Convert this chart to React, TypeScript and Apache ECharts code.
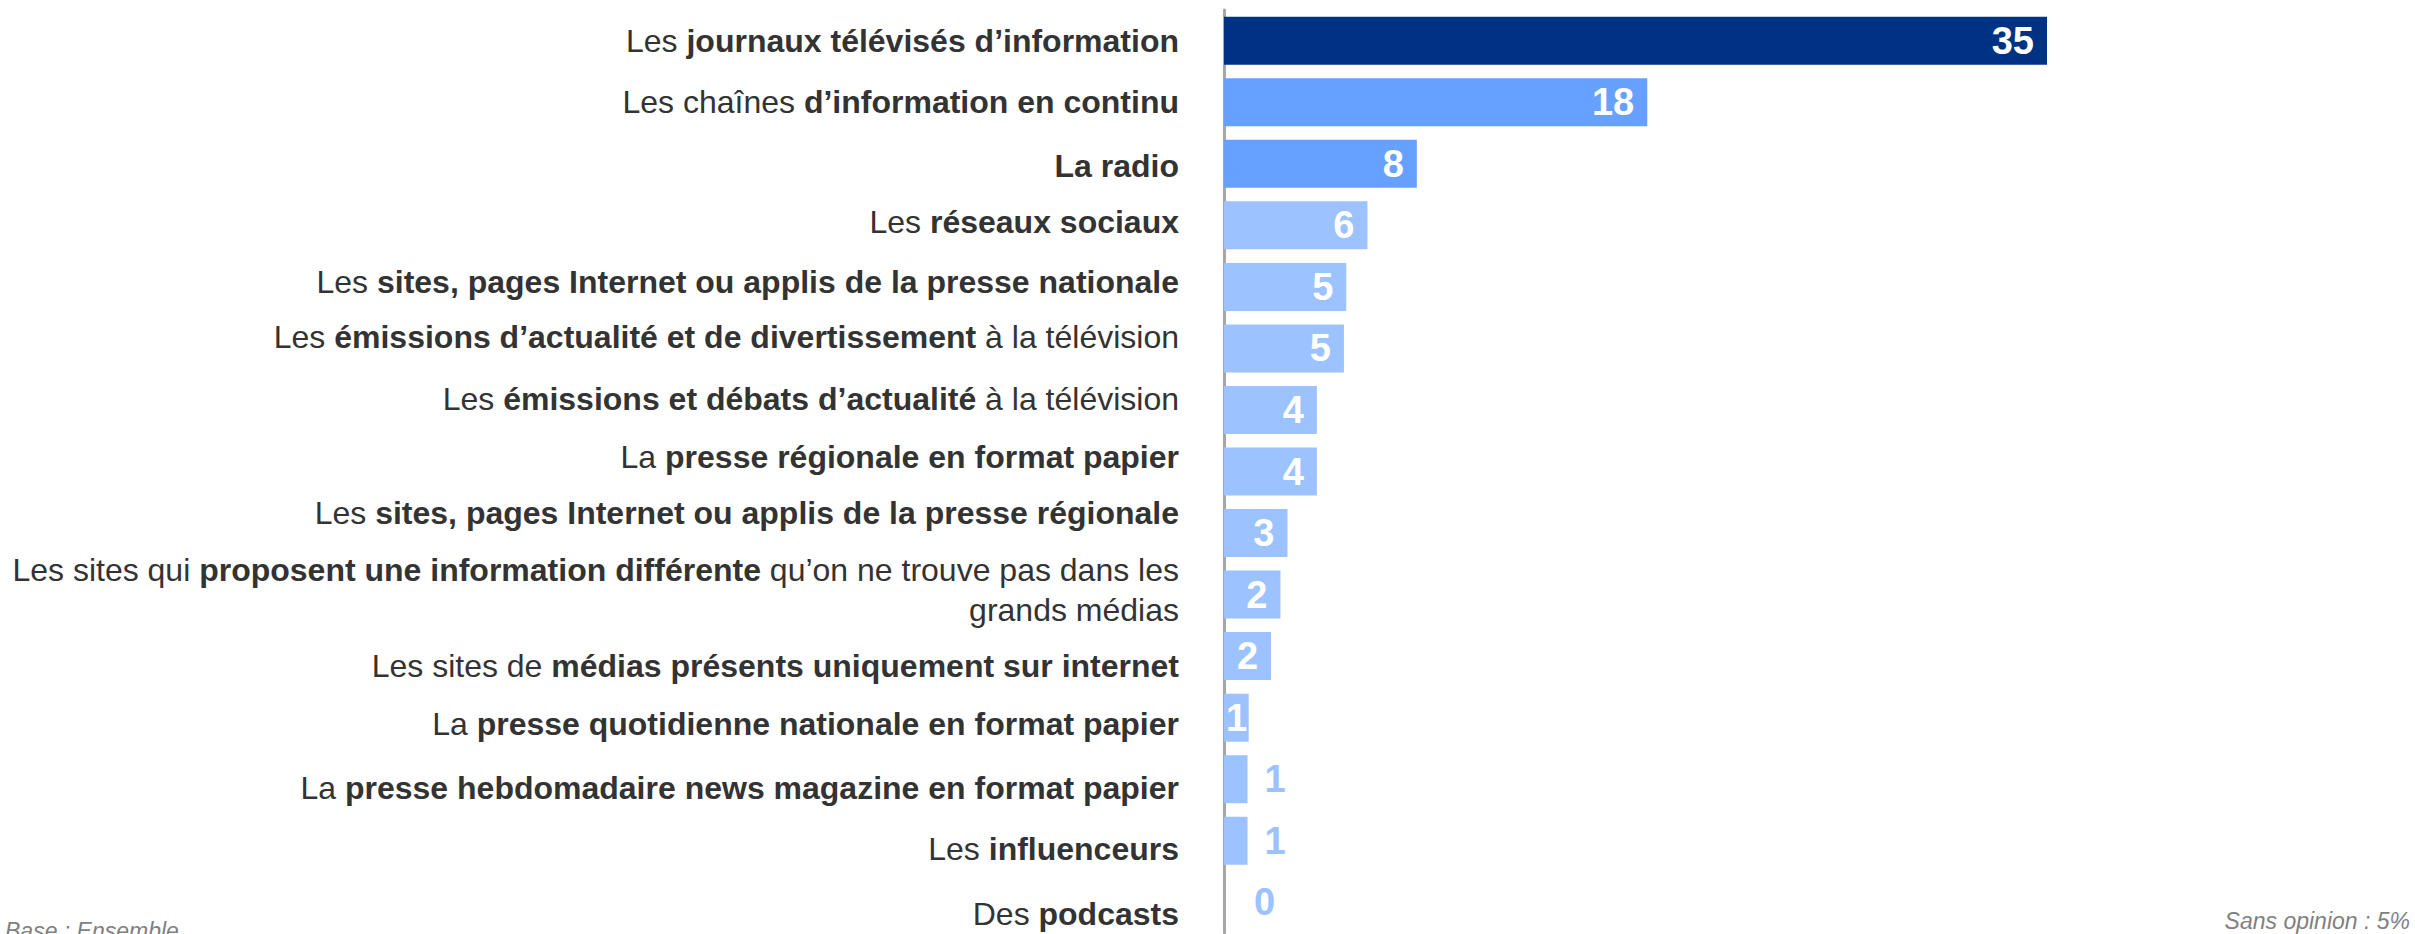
import React, { useEffect, useRef } from "react";
import * as echarts from "echarts";

const categories: string[] = [
  "Les {b|journaux télévisés d’information}",
  "Les chaînes {b|d’information en continu}",
  "{b|La radio}",
  "Les {b|réseaux sociaux}",
  "Les {b|sites, pages Internet ou applis de la presse nationale}",
  "Les {b|émissions d’actualité et de divertissement} à la télévision",
  "Les {b|émissions et débats d’actualité} à la télévision",
  "La {b|presse régionale en format papier}",
  "Les {b|sites, pages Internet ou applis de la presse régionale}",
  "Les sites qui {b|proposent une information différente} qu’on ne trouve pas dans les\ngrands médias",
  "Les sites de {b|médias présents uniquement sur internet}",
  "La {b|presse quotidienne nationale en format papier}",
  "La {b|presse hebdomadaire news magazine en format papier}",
  "Les {b|influenceurs}",
  "Des {b|podcasts}",
];

const values: number[] = [35, 18, 8.2, 6.1, 5.2, 5.1, 3.95, 3.95, 2.7, 2.4, 2.0, 1.05, 1.0, 1.0, 0];
const shownLabels: string[] = ["35", "18", "8", "6", "5", "5", "4", "4", "3", "2", "2", "1", "1", "1", "0"];
// vertical shift of each category label relative to its bar (px, negative = up)
const labelShift: number[] = [0, 0, 2, -3, -5, -11, -11, -15, -20, -5, 10, 6, 9, 8, 12];

const DARK = "#003283";
const MID = "#66a1ff";
const LIGHT = "#9cc2ff";
const FONT = "'Liberation Sans', Arial, sans-serif";

export default function App() {
  const ref = useRef<HTMLDivElement>(null);
  useEffect(() => {
    if (!ref.current) return;
    const chart = echarts.init(ref.current, null, { renderer: "svg" });
    const data = values.map((v, i) => {
      const color = i === 0 ? DARK : i < 3 ? MID : LIGHT;
      let label: any = {
        show: true,
        position: "insideRight",
        distance: 13,
        color: "#ffffff",
      };
      if (i === 11) {
        label = { show: true, position: "insideLeft", distance: 2, color: "#ffffff" };
      } else if (i === 12 || i === 13) {
        label = { show: true, position: "right", distance: 17, color: LIGHT };
      } else if (i === 14) {
        label = { show: true, position: "right", distance: 30, color: LIGHT };
      }
      return { value: v, itemStyle: { color }, label };
    });
    const catData = categories.map((c, i) => {
      const s = labelShift[i];
      const padding = s < 0 ? [0, 0, -2 * s, 0] : [2 * s, 0, 0, 0];
      return { value: c, textStyle: { padding } };
    });
    chart.setOption({
      animation: false,
      grid: { left: 1224, top: 10, width: 823, height: 930, containLabel: false },
      xAxis: {
        type: "value",
        min: 0,
        max: 35,
        show: false,
      },
      yAxis: {
        type: "category",
        inverse: true,
        data: catData,
        axisLine: { show: true, lineStyle: { color: "#a6a6a6", width: 3 } },
        axisTick: { show: false },
        axisLabel: {
          margin: 45,
          fontSize: 32,
          lineHeight: 40,
          color: "#333333",
          fontFamily: FONT,
          align: "right",
          rich: {
            b: { fontWeight: "bold", fontSize: 32, lineHeight: 40, color: "#333333", fontFamily: FONT },
          },
        },
      },
      series: [
        {
          type: "bar",
          barWidth: 48,
          data,
          label: {
            fontSize: 38,
            fontWeight: "bold",
            fontFamily: FONT,
            formatter: (p: any) => shownLabels[p.dataIndex],
          },
        },
      ],
      graphic: [
        {
          type: "text",
          left: 5,
          top: 919,
          style: {
            text: "Base : Ensemble",
            fontSize: 23,
            fontStyle: "italic",
            fill: "#808080",
            fontFamily: FONT,
          },
        },
        {
          type: "text",
          right: 5,
          top: 909,
          style: {
            text: "Sans opinion : 5%",
            fontSize: 23,
            fontStyle: "italic",
            fill: "#808080",
            fontFamily: FONT,
          },
        },
      ],
    });
    return () => chart.dispose();
  }, []);
  return (
    <div
      ref={ref}
      style={{ position: "absolute", left: 0, top: 0, width: 2415, height: 934 }}
    />
  );
}
